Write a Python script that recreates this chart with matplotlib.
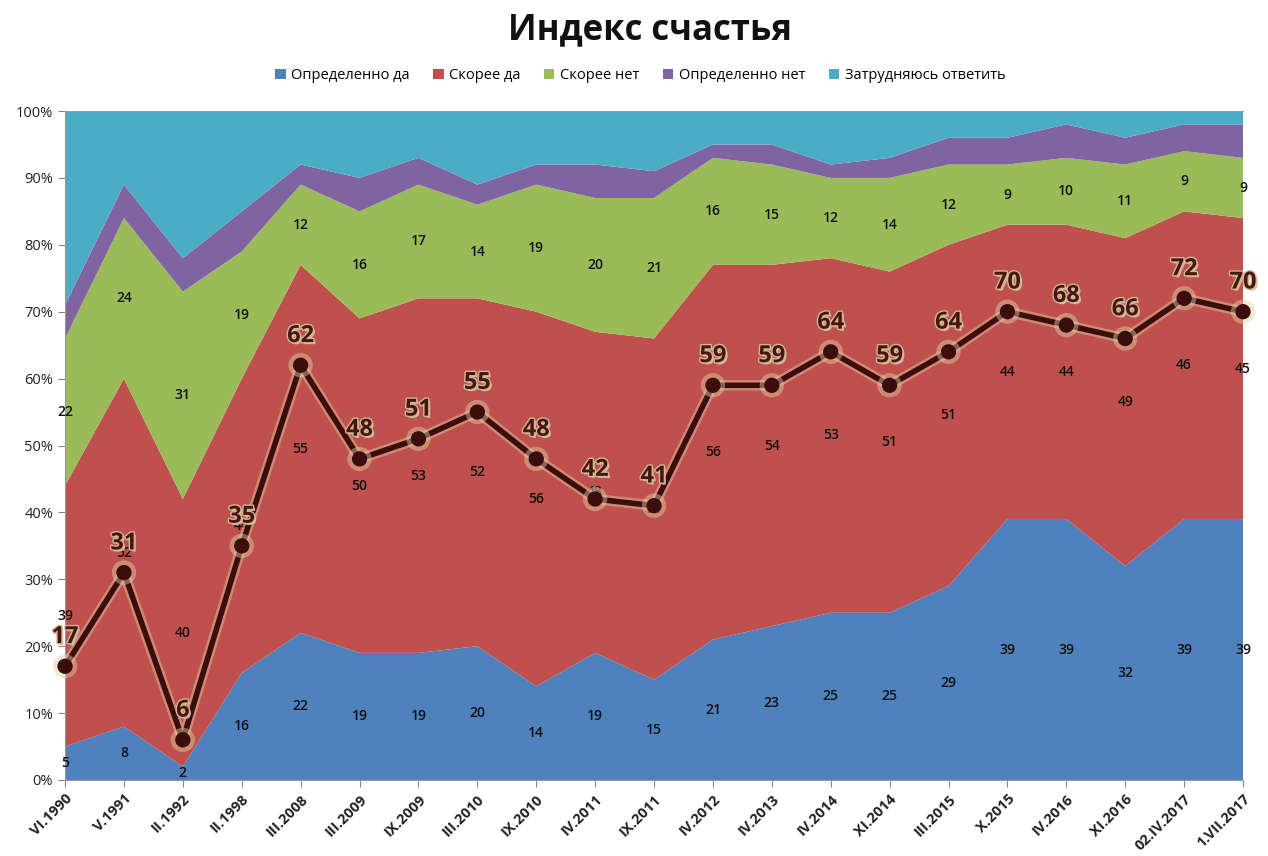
import matplotlib
matplotlib.use("Agg")
import matplotlib.pyplot as plt
import matplotlib.patheffects as pe
import numpy as np

categories = ["VI.1990", "V.1991", "II.1992", "II.1998", "III.2008", "III.2009", "IX.2009",
              "III.2010", "IX.2010", "IV.2011", "IX.2011", "IV.2012", "IV.2013", "IV.2014",
              "XI.2014", "III.2015", "X.2015", "IV.2016", "XI.2016", "02.IV.2017", "1.VII.2017"]
definitely_yes = [5, 8, 2, 16, 22, 19, 19, 20, 14, 19, 15, 21, 23, 25, 25, 29, 39, 39, 32, 39, 39]
rather_yes = [39, 52, 40, 44, 55, 50, 53, 52, 56, 48, 51, 56, 54, 53, 51, 51, 44, 44, 49, 46, 45]
rather_no = [22, 24, 31, 19, 12, 16, 17, 14, 19, 20, 21, 16, 15, 12, 14, 12, 9, 10, 11, 9, 9]
definitely_no = [5, 5, 5, 6, 3, 5, 4, 3, 3, 5, 4, 2, 3, 2, 3, 4, 4, 5, 4, 4, 5]
hard_to_say = [29, 11, 22, 15, 8, 10, 7, 11, 8, 8, 9, 5, 5, 8, 7, 4, 4, 2, 4, 2, 2]
happiness_index = [17, 31, 6, 35, 62, 48, 51, 55, 48, 42, 41, 59, 59, 64, 59, 64, 70, 68, 66, 72, 70]

series_names = ["Определенно да", "Скорее да", "Скорее нет", "Определенно нет", "Затрудняюсь ответить"]
colors = ["#4F81BD", "#C0504D", "#9BBB59", "#8064A2", "#4BACC6"]

plt.rcParams['font.family'] = ['Open Sans', 'DejaVu Sans']

fig = plt.figure(figsize=(12.68, 8.56), dpi=100)
ax = fig.add_axes([0.0513, 0.0888, 0.9290, 0.7815])

x = np.arange(len(categories))
data = [definitely_yes, rather_yes, rather_no, definitely_no, hard_to_say]
arr = np.array(data, dtype=float)
ax.stackplot(x, arr, colors=colors, labels=series_names, linewidth=0)

# band labels for first three series
cum = np.cumsum(arr, axis=0)
for i in range(3):
    bottom = cum[i] - arr[i]
    for xi in x:
        ax.text(xi, (bottom[xi] + cum[i][xi]) / 2, str(int(arr[i][xi])), ha='center', va='center',
                fontsize=10, color='#111111', fontweight='semibold', zorder=3)

# index line
glow = [pe.Stroke(linewidth=7.5, foreground='#e3d2a8', alpha=0.45), pe.Normal()]
ax.plot(x, happiness_index, color='#3b0d0d', lw=4, marker='o', markersize=10,
        markerfacecolor='#3b0d0d', markeredgecolor='#3b0d0d', zorder=5, path_effects=glow,
        clip_on=False)
for xi, v in zip(x, happiness_index):
    ax.annotate(str(v), (xi, v), xytext=(0, 21), textcoords='offset points', ha='center',
                va='center', fontsize=17, fontweight='bold', color='#4a1414', zorder=6,
                path_effects=[pe.withSimplePatchShadow(offset=(1.5, -1.5), shadow_rgbFace='#d9c7a0', alpha=0.9),
                              pe.withStroke(linewidth=2, foreground='#cdb98f')],
                annotation_clip=False)

ax.set_xlim(0, len(categories) - 1)
ax.set_ylim(0, 100)
ax.set_yticks(np.arange(0, 101, 10))
ax.set_yticklabels([f"{t}%" for t in range(0, 101, 10)], fontsize=10.5, color='#222222')
ax.set_xticks(x)
ax.set_xticklabels(categories, rotation=45, ha='right', rotation_mode='anchor', fontsize=10.5,
                   color='#222222', fontweight='bold')
ax.tick_params(axis='both', direction='out', length=5, color='#888888')
for s in ['right']:
    ax.spines[s].set_visible(False)
for s in ['left', 'bottom', 'top']:
    ax.spines[s].set_color('#999999')

fig.text(0.513, 0.965, "Индекс счастья", ha='center', va='center', fontsize=25, fontweight='bold',
         color='#111111')
handles, labels = ax.get_legend_handles_labels()
fig.legend(handles, labels, loc='center', bbox_to_anchor=(0.505, 0.912), ncol=5, frameon=False,
           fontsize=10.5, handlelength=0.7, handleheight=0.7, handletextpad=0.4, columnspacing=1.6)

fig.savefig("out.png", dpi=100)
